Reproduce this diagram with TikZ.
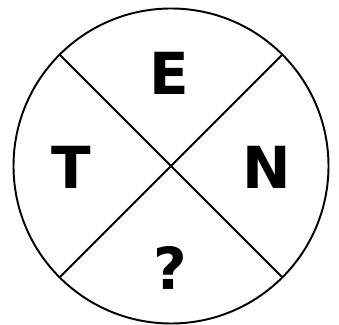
\documentclass[tikz,border=0pt]{standalone}
\usepackage{fontspec}
\setmainfont{DejaVu Sans}
\usetikzlibrary{calc}

\begin{document}
\begin{tikzpicture}[x=0.02cm, y=0.02cm, line width=1.1pt,
    letter/.style={font=\fontsize{33}{35}\selectfont\bfseries}]

% Frame
\useasboundingbox (0,0) rectangle (339,325);

% Centre O
\coordinate (O) at (171,159);

% Outer circle
\draw (O) circle (157.5);

% Diagonals through the centre
\foreach \a in {45,135}
{
    \coordinate (P\a) at ($(O)+(\a:157.5)$);
    \coordinate (Q\a) at ($(O)+(\a+180:157.5)$);
    \draw (P\a) -- (Q\a);
}

% Letters in the four sectors
\node[letter] (E) at (169,252) {E};
\node[letter] (N) at (267,158) {N};
\node[letter] (Q) at (170,57) {?};
\node[letter] (T) at (71,158) {T};

\end{tikzpicture}
\end{document}
